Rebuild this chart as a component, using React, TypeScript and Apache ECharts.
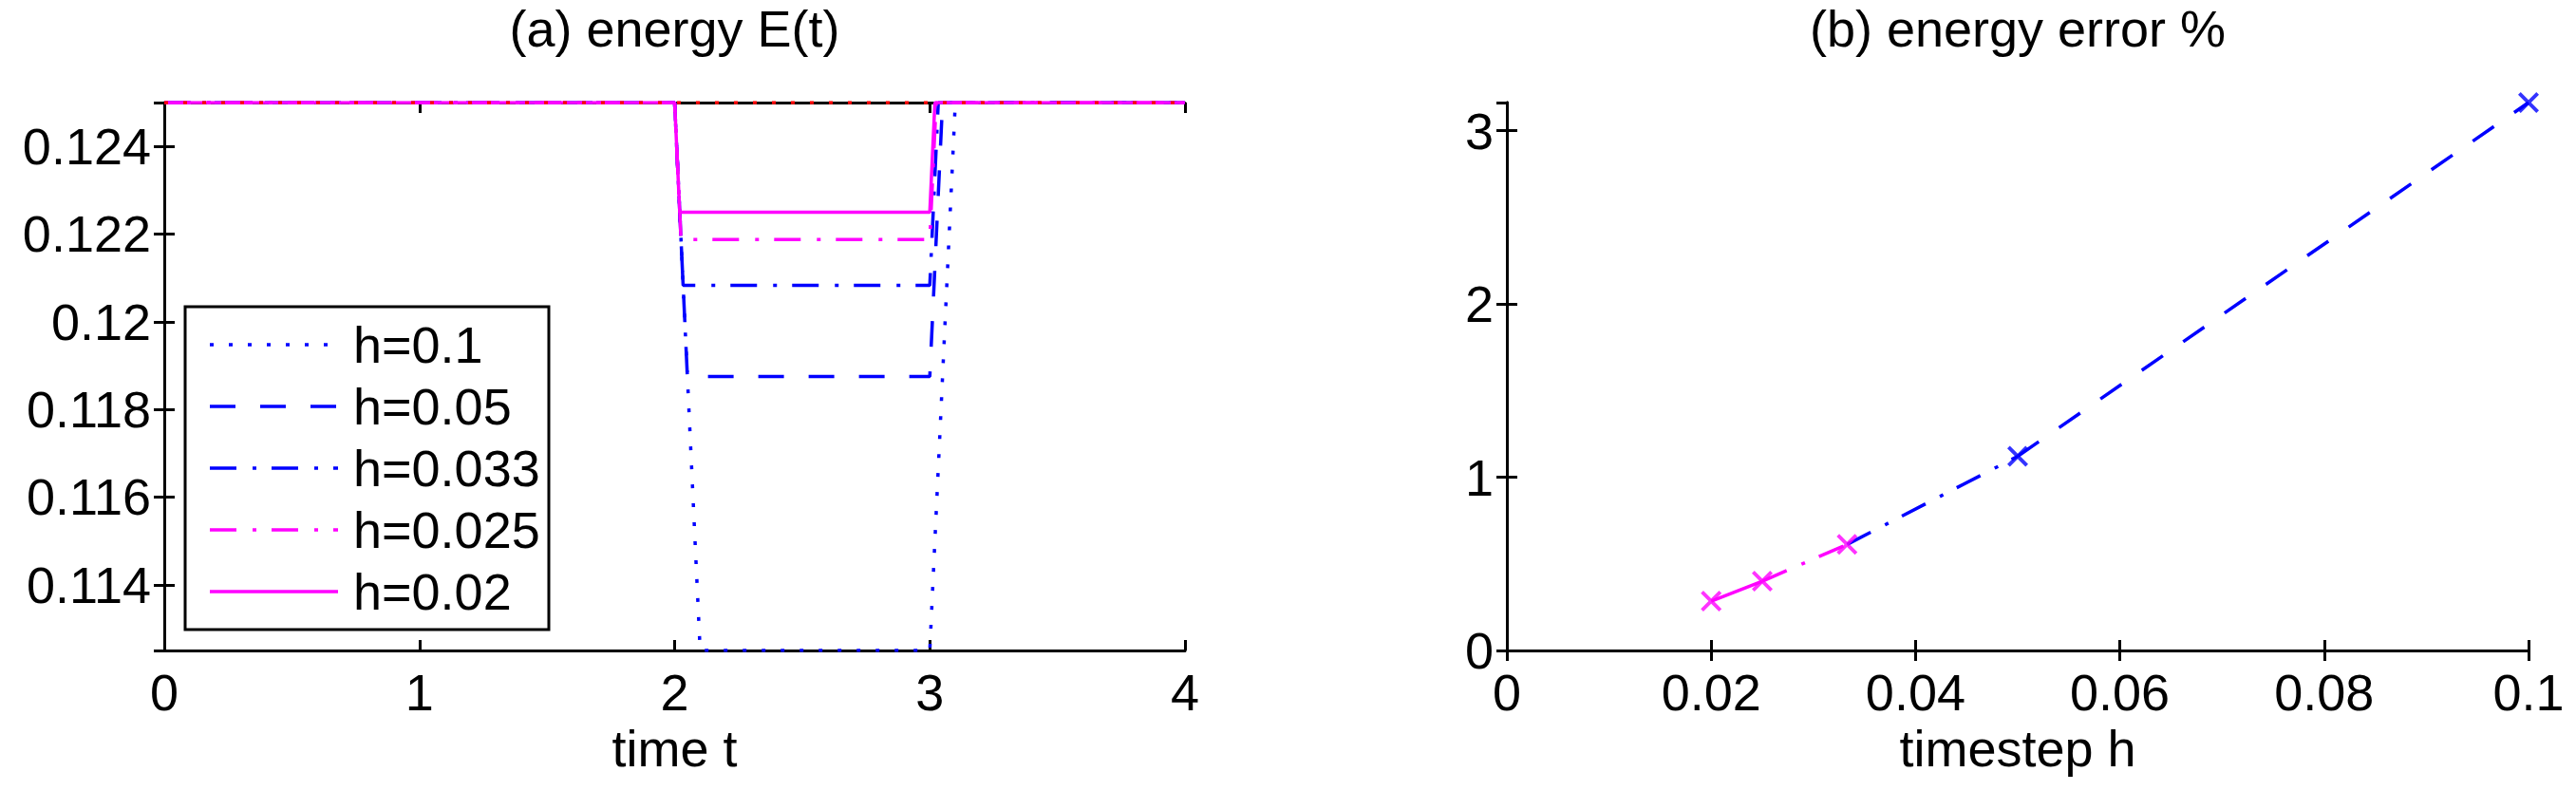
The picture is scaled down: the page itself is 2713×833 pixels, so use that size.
import React, { useEffect, useRef } from 'react';
import * as echarts from 'echarts';

// ---------- data : panel (a) energy E(t) ----------
const legendNames = ['h=0.1', 'h=0.05', 'h=0.033', 'h=0.025', 'h=0.02'];
const tH01 = [0, 2, 2.1, 3, 3.1, 4];
const eH01 = [0.125, 0.125, 0.1125, 0.1125, 0.125, 0.125];
const tH005 = [0, 2, 2.05, 3, 3.05, 4];
const eH005 = [0.125, 0.125, 0.11875, 0.11875, 0.125, 0.125];
const tH0033 = [0, 2, 2.0333, 3, 3.0333, 4];
const eH0033 = [0.125, 0.125, 0.12083, 0.12083, 0.125, 0.125];
const tH0025 = [0, 2, 2.025, 3, 3.025, 4];
const eH0025 = [0.125, 0.125, 0.121875, 0.121875, 0.125, 0.125];
const tH002 = [0, 2, 2.02, 3, 3.02, 4];
const eH002 = [0.125, 0.125, 0.1225, 0.1225, 0.125, 0.125];
const tExact = [0, 4];
const eExact = [0.125, 0.125];
const energyRange = [0.1125, 0.125];
const timeRange = [0, 4];

// ---------- data : panel (b) energy error % ----------
const stepH = [0.02, 0.025, 0.0333, 0.05, 0.1];
const errorPct = [0.285, 0.4, 0.612, 1.121, 3.163];
const stepRange = [0, 0.1];

// ---------- styles ----------
const FONT = '"Liberation Sans", Arial, Helvetica, sans-serif';
const FS = 54;
const BLUE = '#0000ff';
const MAGENTA = '#ff00ff';
const RED = '#ff0000';
const LW = 3.5;
const DOT = [4, 16];
const DASH = [27, 26];
const DASHDOT = [28, 17, 4, 16];
const SOLID: any = 'solid';

const stylesA = [
  { color: BLUE, dash: DOT },
  { color: BLUE, dash: DASH },
  { color: BLUE, dash: DASHDOT },
  { color: MAGENTA, dash: DASHDOT },
  { color: MAGENTA, dash: SOLID },
];
const segStylesB = [
  { color: MAGENTA, dash: SOLID },
  { color: MAGENTA, dash: DASHDOT },
  { color: BLUE, dash: DASHDOT },
  { color: BLUE, dash: DASH },
];
const markerColors = [MAGENTA, MAGENTA, MAGENTA, BLUE, BLUE];
const X_PATH =
  'path://M2.5,0L10,7.5L17.5,0L20,2.5L12.5,10L20,17.5L17.5,20L10,12.5L2.5,20L0,17.5L7.5,10L0,2.5Z';

// ---------- layout ----------
const W = 2713;
const H = 833;
const A = { left: 173, right: 1248, top: 108, bottom: 685 };
const B = { left: 1587, right: 2663, top: 108, bottom: 685 };

const axisLineStyle = { show: true, lineStyle: { color: '#000', width: 3 } };
const axisTickStyle = { show: true, inside: true, length: 11, lineStyle: { color: '#000', width: 3 } };
const labelStyle = { color: '#000', fontSize: FS, fontFamily: FONT };

function makeOption() {
  const seriesA = [
    [tH01, eH01],
    [tH005, eH005],
    [tH0033, eH0033],
    [tH0025, eH0025],
    [tH002, eH002],
  ].map(([t, e], i) => ({
    type: 'line',
    name: legendNames[i],
    xAxisIndex: 0,
    yAxisIndex: 0,
    data: t.map((x, k) => [x, e[k]]),
    symbol: 'none',
    showSymbol: false,
    lineStyle: { color: stylesA[i].color, width: LW, type: stylesA[i].dash, cap: 'butt' },
    itemStyle: { color: stylesA[i].color },
    animation: false,
  }));
  const exactSeries = {
    type: 'line',
    name: 'exact',
    xAxisIndex: 0,
    yAxisIndex: 0,
    data: tExact.map((x, k) => [x, eExact[k]]),
    symbol: 'none',
    lineStyle: { color: RED, width: LW, type: DOT, cap: 'butt' },
    animation: false,
  };
  const segSeries = segStylesB.map((s, i) => ({
    type: 'line',
    xAxisIndex: 2,
    yAxisIndex: 2,
    data: [
      [stepH[i], errorPct[i]],
      [stepH[i + 1], errorPct[i + 1]],
    ],
    symbol: 'none',
    lineStyle: { color: s.color, width: LW, type: s.dash, cap: 'butt' },
    animation: false,
  }));
  const markerSeries = {
    type: 'scatter',
    xAxisIndex: 2,
    yAxisIndex: 2,
    symbol: X_PATH,
    symbolSize: 22,
    clip: false,
    z: 5,
    data: stepH.map((h, i) => ({ value: [h, errorPct[i]], itemStyle: { color: markerColors[i] } })),
    animation: false,
  };

  const errMax = Math.max(...errorPct);

  // legend drawn as graphic
  const LG = { x: 195, y: 323, w: 383, h: 340, row0: 363, gap: 65, lx1: 221, lx2: 356, tx: 372 };
  const legendChildren: any[] = [
    {
      type: 'rect',
      shape: { x: LG.x, y: LG.y, width: LG.w, height: LG.h },
      style: { fill: '#fff', stroke: '#000', lineWidth: 3 },
    },
  ];
  legendNames.forEach((n, i) => {
    const y = LG.row0 + i * LG.gap;
    legendChildren.push({
      type: 'line',
      shape: { x1: LG.lx1, y1: y, x2: LG.lx2, y2: y },
      style: {
        stroke: stylesA[i].color,
        lineWidth: LW,
        lineDash: stylesA[i].dash === SOLID ? null : stylesA[i].dash,
        lineCap: 'butt',
      },
    });
    legendChildren.push({
      type: 'text',
      x: LG.tx,
      y: y,
      style: { text: n, fill: '#000', font: `${FS}px ${FONT}`, textAlign: 'left', textVerticalAlign: 'middle' },
    });
  });

  return {
    animation: false,
    backgroundColor: '#fff',
    textStyle: { fontFamily: FONT },
    title: [
      {
        text: '(a) energy E(t)',
        left: (A.left + A.right) / 2,
        top: 3,
        textAlign: 'center',
        padding: 0,
        textStyle: { fontSize: FS, fontWeight: 'normal', color: '#000', fontFamily: FONT },
      },
      {
        text: '(b) energy error %',
        left: (B.left + B.right) / 2,
        top: 3,
        textAlign: 'center',
        padding: 0,
        textStyle: { fontSize: FS, fontWeight: 'normal', color: '#000', fontFamily: FONT },
      },
    ],
    grid: [
      {
        left: A.left,
        top: A.top,
        width: A.right - A.left,
        height: A.bottom - A.top,
        containLabel: false,
        outerBoundsMode: 'none',
      },
      {
        left: B.left,
        top: B.top,
        width: B.right - B.left,
        height: B.bottom - B.top,
        containLabel: false,
        outerBoundsMode: 'none',
      },
    ],
    xAxis: [
      {
        type: 'value',
        gridIndex: 0,
        position: 'bottom',
        min: timeRange[0],
        max: timeRange[1],
        interval: 1,
        axisLine: axisLineStyle,
        axisTick: axisTickStyle,
        splitLine: { show: false },
        axisLabel: { ...labelStyle, margin: 17 },
        name: 'time t',
        nameLocation: 'middle',
        nameGap: 76,
        nameTextStyle: { ...labelStyle },
      },
      {
        type: 'value',
        gridIndex: 0,
        position: 'top',
        min: timeRange[0],
        max: timeRange[1],
        interval: 1,
        axisLine: axisLineStyle,
        axisTick: axisTickStyle,
        splitLine: { show: false },
        axisLabel: { show: false },
      },
      {
        type: 'value',
        gridIndex: 1,
        position: 'bottom',
        min: stepRange[0],
        max: stepRange[1],
        interval: 0.02,
        axisLine: axisLineStyle,
        axisTick: axisTickStyle,
        splitLine: { show: false },
        axisLabel: { ...labelStyle, margin: 17 },
        name: 'timestep h',
        nameLocation: 'middle',
        nameGap: 76,
        nameTextStyle: { ...labelStyle },
      },
      {
        type: 'value',
        gridIndex: 1,
        position: 'top',
        min: stepRange[0],
        max: stepRange[1],
        interval: 0.02,
        axisLine: axisLineStyle,
        axisTick: axisTickStyle,
        splitLine: { show: false },
        axisLabel: { show: false },
      },
    ],
    yAxis: [
      {
        type: 'value',
        gridIndex: 0,
        position: 'left',
        min: energyRange[0],
        max: energyRange[1],
        splitNumber: 6,
        axisLine: axisLineStyle,
        axisTick: axisTickStyle,
        splitLine: { show: false },
        axisLabel: { ...labelStyle, margin: 14, showMinLabel: false, showMaxLabel: false },
      },
      {
        type: 'value',
        gridIndex: 0,
        position: 'right',
        min: energyRange[0],
        max: energyRange[1],
        splitNumber: 6,
        axisLine: axisLineStyle,
        axisTick: axisTickStyle,
        splitLine: { show: false },
        axisLabel: { show: false },
      },
      {
        type: 'value',
        gridIndex: 1,
        position: 'left',
        min: 0,
        max: errMax,
        interval: 1,
        axisLine: axisLineStyle,
        axisTick: axisTickStyle,
        splitLine: { show: false },
        axisLabel: { ...labelStyle, margin: 14, showMaxLabel: false },
      },
      {
        type: 'value',
        gridIndex: 1,
        position: 'right',
        min: 0,
        max: errMax,
        interval: 1,
        axisLine: axisLineStyle,
        axisTick: axisTickStyle,
        splitLine: { show: false },
        axisLabel: { show: false },
      },
    ],
    legend: { show: false },
    graphic: [{ type: 'group', z: 100, children: legendChildren }],
    series: [...seriesA, exactSeries, ...segSeries, markerSeries],
  };
}

export default function App() {
  const ref = useRef<HTMLDivElement>(null);
  useEffect(() => {
    document.body.style.margin = '0';
    document.documentElement.style.overflow = 'hidden';
    if (!ref.current) return;
    const chart = echarts.init(ref.current, undefined, { renderer: 'svg', width: W, height: H });
    chart.setOption(makeOption() as any);
    return () => chart.dispose();
  }, []);
  return <div ref={ref} style={{ width: W, height: H, background: '#fff' }} />;
}
